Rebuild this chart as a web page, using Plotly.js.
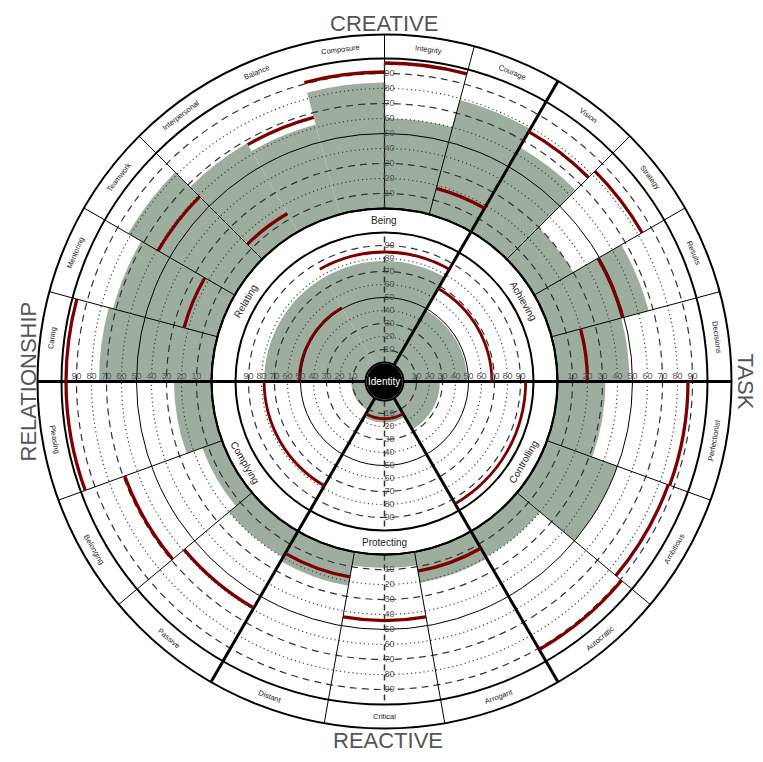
<!DOCTYPE html>
<html>
<head>
<meta charset="utf-8">
<script src="https://cdn.plot.ly/plotly-3.0.1.min.js"></script>
<style>
  html, body { margin: 0; padding: 0; background: #fff; }
  #chart { width: 763px; height: 762px; }
</style>
</head>
<body>
<div id="chart"></div>
<script>
// inner ring, clockwise from the top
const sectorLabels = ['Being', 'Achieving', 'Controlling', 'Protecting', 'Complying', 'Relating'];
const sectorScores = [78, 49, 28, 17, 11, 78];
const sectorNorms  = [85, 68, 94, 14, 78, 51];

// outer ring, clockwise from the Relating / Being border
const dimensionLabels = [
    'Balance', 'Composure', 'Integrity', 'Courage',
    'Vision', 'Strategy', 'Results', 'Decisions',
    'Perfectionist', 'Ambitious', 'Autocratic',
    'Arrogant', 'Critical', 'Distant',
    'Passive', 'Belonging', 'Pleasing',
    'Caring', 'Mentoring', 'Teamwork', 'Interpersonal'
];
const dimensionSector = [0, 0, 0, 0, 1, 1, 1, 1, 2, 2, 2, 3, 3, 3, 4, 4, 4, 5, 5, 5, 5];
const dimensionScores = [62, 84, 60, 79, 65, 30, 67, 48, 32, 50, 20, 21, 9, 23, 20, 14, 25, 75, 72, 82, 68];
const dimensionNorms  = [67, 91, 97, 18, 77, 83, 49, 20, 87, 86, 91, 13, 44, 17, 59, 69, 97, 97, 23, 59, 14];

const tickValues = [10, 20, 30, 40, 50, 60, 70, 80, 90];
const tickLabels = ['10', '20', '30', '40', '50', '60', '70', '80', '90'];
const centerLabel = 'Identity';
const quadrantLabels = ['CREATIVE', 'TASK', 'REACTIVE', 'RELATIONSHIP'];

// ---- geometry / style ----
const W = 763, H = 762;
const CX = 384.5, CY = 381.5;
const OUTER = { radius: 347, hole: 173, unit: 1.5 };
const INNER = { radius: 173, hole: 19, unit: 1.3 };
const SCALE_TOP = 100;
const ARC = 2.2;

const FONT = 'Liberation Sans, Arial, sans-serif';
const colors = {
    fill: '#9dae9f',
    norm: '#7d0000',
    line: '#000000',
    dash: '#333333',
    dot: '#444444',
    text: '#222222',
    tick: '#555555',
    big: '#555555'
};

// angles: each sector takes 60 degrees, its dimensions share it evenly
const sectorStart = sectorLabels.map((_, s) => 60 * s - 30);
const sectorTheta = sectorLabels.map((_, s) => 60 * s);

const dimTheta = [], dimWidth = [], dimStart = [];
sectorLabels.forEach((_, s) => {
    const members = dimensionSector.map((v, i) => v === s ? i : -1).filter(i => i >= 0);
    const w = 60 / members.length;
    members.forEach((idx, k) => {
        dimStart[idx] = sectorStart[s] + k * w;
        dimTheta[idx] = sectorStart[s] + (k + 0.5) * w;
        dimWidth[idx] = w;
    });
});

function polarLayout(g, radial, angular) {
    const max = (g.radius - g.hole) / g.unit;
    return {
        domain: {
            x: [(CX - g.radius) / W, (CX + g.radius) / W],
            y: [1 - (CY + g.radius) / H, 1 - (CY - g.radius) / H]
        },
        hole: g.hole / g.radius,
        bgcolor: 'rgba(0,0,0,0)',
        radialaxis: Object.assign({
            type: 'linear', range: [0, max], showgrid: false, showline: false,
            showticklabels: false, ticks: ''
        }, radial || {}),
        angularaxis: Object.assign({
            type: 'linear', thetaunit: 'degrees', rotation: 90, direction: 'clockwise',
            showgrid: false, showline: false, showticklabels: false, ticks: ''
        }, angular || {})
    };
}

function rings(vals, color, width, dash) {
    return { tickmode: 'array', tickvals: vals, showgrid: true, gridcolor: color, gridwidth: width, griddash: dash };
}

function spokes(vals, width) {
    return { tickmode: 'array', tickvals: vals, showgrid: true, gridcolor: colors.line, gridwidth: width };
}

const dashVals = tickValues.filter(v => v % 20 === 10 && v !== 50);
const dotVals = tickValues.filter(v => v % 20 === 0);

// empty trace so that a grid-only overlay subplot gets drawn
function carrier(subplot) {
    return { type: 'scatterpolar', subplot, r: [], theta: [], hoverinfo: 'skip', showlegend: false };
}

function axisLine(subplot) {
    return {
        type: 'scatterpolar', subplot, mode: 'lines',
        r: [0, SCALE_TOP, null, 0, SCALE_TOP],
        theta: [0, 0, null, 180, 180],
        line: { color: colors.dash, width: 1.5, dash: '6px,4px' },
        hoverinfo: 'skip', showlegend: false
    };
}

function tickText(subplot) {
    const r = [], theta = [], text = [], pos = [];
    [0, 90, 180, 270].forEach(a => {
        tickValues.forEach((v, i) => {
            r.push(v); theta.push(a); text.push(tickLabels[i]);
            pos.push(a % 180 === 0 ? 'middle right' : 'top center');
        });
    });
    return {
        type: 'scatterpolar', subplot, mode: 'text', r, theta, text, textposition: pos,
        textfont: { family: FONT, size: 9, color: colors.tick },
        hoverinfo: 'skip', showlegend: false
    };
}

function fillBars(subplot, values, theta, width) {
    return {
        type: 'barpolar', subplot, r: values, theta, width,
        marker: { color: colors.fill, line: { width: 0 } },
        hoverinfo: 'skip', showlegend: false
    };
}

function normArcs(subplot, values, theta, width) {
    return {
        type: 'barpolar', subplot, r: values.map(() => ARC), base: values.map(v => v - ARC / 2),
        theta, width,
        marker: { color: colors.norm, line: { width: 0 } },
        hoverinfo: 'skip', showlegend: false
    };
}

const traces = [
    // outer ring
    fillBars('polar', dimensionScores, dimTheta, dimWidth),
    carrier('polar3'),
    carrier('polar4'),
    carrier('polar5'),
    normArcs('polar6', dimensionNorms, dimTheta, dimWidth),
    axisLine('polar6'),
    tickText('polar6'),
    // inner ring
    fillBars('polar2', sectorScores, sectorTheta, sectorLabels.map(() => 60)),
    carrier('polar7'),
    carrier('polar8'),
    carrier('polar9'),
    normArcs('polar10', sectorNorms, sectorTheta, sectorLabels.map(() => 60)),
    axisLine('polar10'),
    tickText('polar10')
];

function paperXY(theta, r) {
    const a = theta * Math.PI / 180;
    return { x: (CX + r * Math.sin(a)) / W, y: 1 - (CY - r * Math.cos(a)) / H };
}

// keep band labels readable: tops face out on the upper half, in on the lower half
function upright(theta) {
    let a = ((theta % 360) + 360) % 360;
    if (a > 180) a -= 360;
    if (a > 90) a -= 180;
    else if (a < -90) a += 180;
    return a;
}

function bandLabel(text, theta, r, size) {
    const p = paperXY(theta, r);
    return {
        text, x: p.x, y: p.y, xref: 'paper', yref: 'paper', showarrow: false,
        xanchor: 'center', yanchor: 'middle', textangle: upright(theta),
        font: { family: FONT, size, color: colors.text }
    };
}

const outerBandMid = (OUTER.hole + SCALE_TOP * OUTER.unit + OUTER.radius) / 2;
const innerBandMid = (INNER.hole + SCALE_TOP * INNER.unit + INNER.radius) / 2;

const annotations = []
    .concat(dimensionLabels.map((t, i) => bandLabel(t, dimTheta[i], outerBandMid, 7.5)))
    .concat(sectorLabels.map((t, i) => bandLabel(t, sectorTheta[i], innerBandMid, 10)));

const bigPos = [
    { x: CX, y: 24, angle: 0 },
    { x: 745, y: CY, angle: 90 },
    { x: 388, y: 740, angle: 0 },
    { x: 28, y: CY, angle: -90 }
];
quadrantLabels.forEach((t, i) => {
    annotations.push({
        text: t, x: bigPos[i].x / W, y: 1 - bigPos[i].y / H, xref: 'paper', yref: 'paper',
        showarrow: false, xanchor: 'center', yanchor: 'middle', textangle: bigPos[i].angle,
        font: { family: FONT, size: 22, color: colors.big }
    });
});

annotations.push({
    text: centerLabel, x: CX / W, y: 1 - CY / H, xref: 'paper', yref: 'paper', showarrow: false,
    xanchor: 'center', yanchor: 'middle', font: { family: FONT, size: 10, color: '#ffffff' }
});

const R_ID = 18;
const layout = {
    width: W, height: H,
    margin: { l: 0, r: 0, t: 0, b: 0 },
    paper_bgcolor: '#ffffff',
    showlegend: false,
    // outer ring layers, bottom to top
    polar: polarLayout(OUTER),
    polar3: polarLayout(OUTER, rings(dashVals, colors.dash, 1.2, '7px,5px')),
    polar4: polarLayout(OUTER, rings(dotVals, colors.dot, 1.2, '1.2px,3px')),
    polar5: polarLayout(OUTER, rings([50], colors.line, 1, 'solid'), spokes(dimStart, 1)),
    polar6: polarLayout(OUTER, rings([SCALE_TOP], colors.line, 2, 'solid'),
        Object.assign(spokes(sectorStart, 3), { showline: true, linecolor: colors.line, linewidth: 2 })),
    // inner ring layers, bottom to top
    polar2: polarLayout(INNER),
    polar7: polarLayout(INNER, rings(dashVals, colors.dash, 1.2, '7px,5px')),
    polar8: polarLayout(INNER, rings(dotVals, colors.dot, 1.2, '1.2px,3px')),
    polar9: polarLayout(INNER, rings([50], colors.line, 1, 'solid')),
    polar10: polarLayout(INNER, rings([SCALE_TOP], colors.line, 2, 'solid'),
        Object.assign(spokes(sectorStart, 3), { showline: true, linecolor: colors.line, linewidth: 2 })),
    shapes: [{
        type: 'circle', xref: 'paper', yref: 'paper', layer: 'above',
        x0: (CX - R_ID) / W, x1: (CX + R_ID) / W,
        y0: 1 - (CY + R_ID) / H, y1: 1 - (CY - R_ID) / H,
        fillcolor: '#000000', line: { width: 0 }
    }],
    annotations
};

Plotly.newPlot('chart', traces, layout, { displayModeBar: false, staticPlot: true });
</script>
</body>
</html>
